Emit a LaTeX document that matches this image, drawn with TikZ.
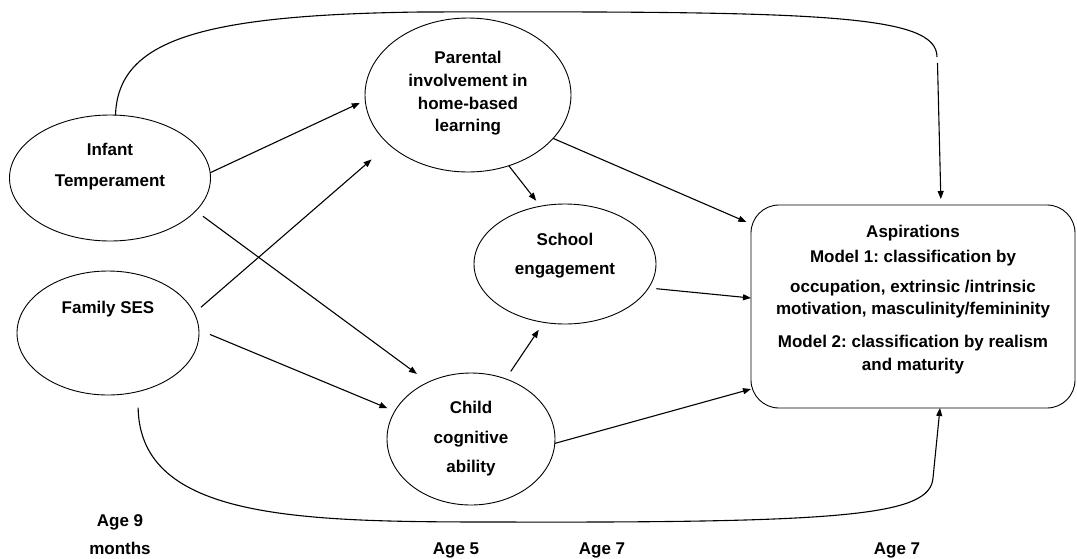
\documentclass[tikz,border=0pt]{standalone}
\usepackage{fontspec}
\setmainfont{Liberation Sans}
\usetikzlibrary{arrows.meta,shapes.geometric}
\frenchspacing
\begin{document}
\begin{tikzpicture}[x=1pt,y=-1pt,
  latent/.style={draw, ellipse, line width=0.9pt, inner sep=0pt, outer sep=0pt},
  outcome/.style={draw, rectangle, rounded corners=28pt, line width=0.9pt, inner sep=0pt, outer sep=0pt},
  lbl/.style={font=\fontsize{17}{21}\selectfont\bfseries, align=center, inner sep=0pt},
  path/.style={line width=1.1pt, -{Triangle[length=8pt,width=6pt]}},
  link/.style={line width=1.1pt}
]
\fill[white] (0,0) rectangle (1077,558);
\useasboundingbox (0,0) rectangle (1077,558);

% constructs
\node[latent, minimum width=201pt, minimum height=126pt] (inf) at (110,178) {};
\node[latent, minimum width=182pt, minimum height=124pt] (ses) at (108,333) {};
\node[latent, minimum width=206pt, minimum height=154pt] (par) at (468,95) {};
\node[latent, minimum width=182pt, minimum height=120pt] (sch) at (565,264) {};
\node[latent, minimum width=168pt, minimum height=132pt] (chi) at (471,439) {};
\node[outcome, minimum width=324pt, minimum height=203pt] (asp) at (913,306.5) {};

% labels
\node[lbl] (inf-t) at (110,167) {Infant\\[10pt]Temperament};
\node[lbl] (ses-t) at (108,309.5) {Family SES};
\node[lbl] (par-t) at (468,93.5) {Parental\\[1.7pt]involvement in\\[1.7pt]home-based\\[1.7pt]learning};
\node[lbl] (sch-t) at (565,256) {School\\[8pt]engagement};
\node[lbl] (chi-t) at (471,439) {Child\\[8.5pt]cognitive\\[8.5pt]ability};
\node[lbl] (asp-t) at (913,300) {Aspirations\\[4pt]Model 1: classification by\\[9pt]occupation, extrinsic /intrinsic\\[1pt]motivation, masculinity/femininity\\[12pt]Model 2: classification by realism\\[2pt]and maturity};

% time points
\node[lbl] (age9) at (120,535) {Age 9\\[7pt]months};
\node[lbl] (age5) at (456,550.5) {Age 5};
\node[lbl] (age7a) at (602,550.5) {Age 7};
\node[lbl] (age7b) at (897,550.5) {Age 7};

% direct paths
\draw[path, shorten >=6pt] (inf.3) -- (par.183);
\draw[path, shorten <=9pt, shorten >=23pt] (ses.13) -- (par.212);
\draw[path, shorten <=9pt, shorten >=14pt] (inf.-21) -- (chi.127);
\draw[path, shorten <=12pt, shorten >=8pt] (ses.2) -- (chi.160);
\draw[path, shorten >=7pt] (par.-60) -- (sch.113);
\draw[path, shorten <=9pt, shorten >=9pt] (chi.60) -- (sch.250);
\draw[path, shorten >=5pt] (par.-27) -- (asp.153);
\draw[path, shorten <=8pt] (sch.-16.5) -- (asp.177);
\draw[path] (chi.-3) -- (asp.207);

% temperament to aspirations, over the top
\coordinate (tb1) at (937,57);
\coordinate (tb2) at (937.5,63);
\draw[link] (inf.85) .. controls (118,40) and (200,15) .. (420,12)
  .. controls (820,11) and (937,14) .. (tb1);
\draw[path, shorten >=6pt] (tb2) -- ([xshift=28pt]asp.north);

% family SES to aspirations, along the bottom
\coordinate (bb) at (933,478);
\draw[path, shorten <=16pt] (ses.-63.7) .. controls (140,520) and (300,522) .. (500,522)
  .. controls (850,523) and (930,515) .. (bb) -- ([xshift=27pt]asp.south);
\end{tikzpicture}
\end{document}
